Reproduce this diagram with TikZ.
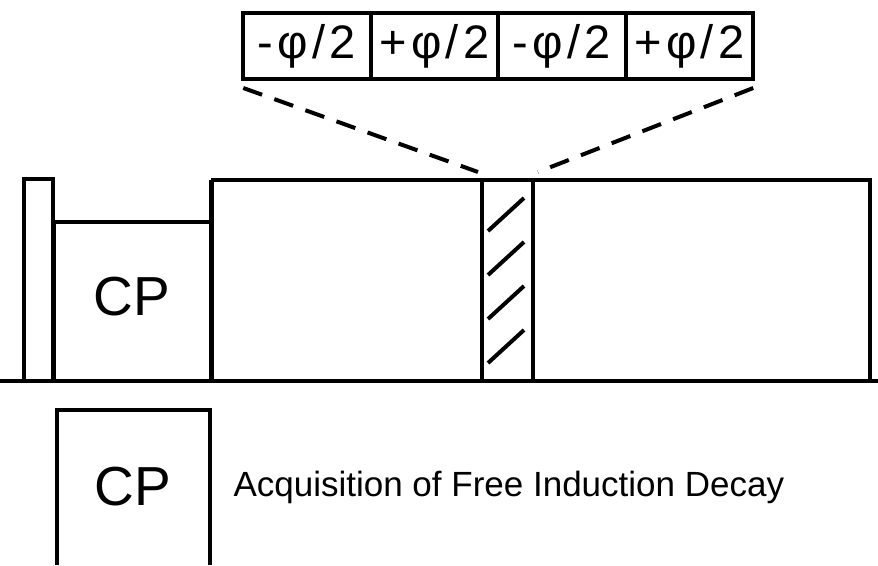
\documentclass[tikz,border=0pt]{standalone}
\usepackage{fontspec}
\setmainfont{Liberation Sans}
\newfontfamily\fasefont[LetterSpace=9]{Liberation Sans}
\usetikzlibrary{positioning}
\tikzset{
  fase/.style={draw, line width=4pt, minimum width=127.5pt, minimum height=66pt,
    inner sep=0pt, outer sep=0pt, font=\fasefont\fontsize{47}{47}\selectfont},
  pulso/.style={line width=4pt},
  corte/.style={line width=4pt, dash pattern=on 20pt off 13pt},
  rotulo/.style={font=\fontsize{55}{55}\selectfont}
}
\begin{document}
\begin{tikzpicture}[x=1pt,y=-1pt]
    \useasboundingbox (0,0) rectangle (878,565);
    % Ciclo de fases
    \node[fase] (f1) at (307,46) {-φ/2};
    \node[fase, right=0pt of f1] (f2) {+φ/2};
    \node[fase, right=0pt of f2] (f3) {-φ/2};
    \node[fase, right=0pt of f3] (f4) {+φ/2};
    \coordinate (zi) at (478,172);
    \coordinate (zd) at (538,172);
    \draw[corte] ([yshift=-9pt]f1.south west) -- (zi);
    \draw[corte] ([yshift=-9pt]f4.south east) -- (zd);
    % Secuencia de pulsos
    \draw[line width=3.5pt] (0,381) -- (878,381);
    \draw[pulso] (24,381) -- (24,179) -- (53,179) -- (53,222);
    \draw[line width=5pt] (53,381) -- (53,222);
    \draw[pulso] (53,222) -- (211,222);
    \draw[line width=5pt] (211,381) -- (211,180);
    \draw[pulso] (211,180) -- (870,180) -- (870,381);
    \draw[pulso] (482,180) -- (482,381);
    \draw[pulso] (533,180) -- (533,381);
    \foreach \d in {0,44,88,132}
        \draw[pulso] (488,231+\d) -- (524,198+\d);
    \node[rotulo] (cp1) at (132,297) {CP};
    % Adquisicion
    \draw[pulso] (57,565) -- (57,410) -- (210,410) -- (210,565);
    \node[rotulo] (cp2) at (133,487) {CP};
    \node[anchor=west, font=\fontsize{35}{35}\selectfont] (fid) at (230,487)
        {Acquisition of Free Induction Decay};
\end{tikzpicture}
\end{document}
